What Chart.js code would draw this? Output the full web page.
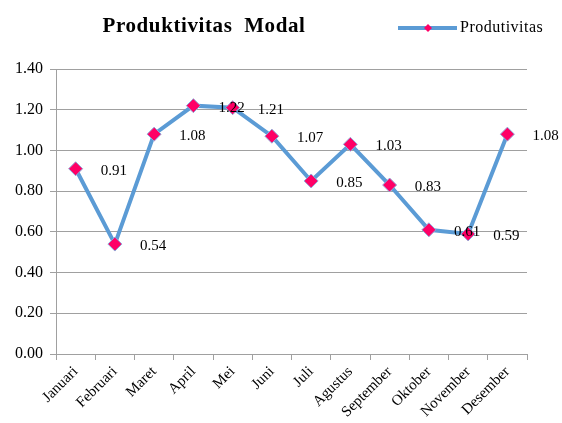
<!DOCTYPE html>
<html>
<head>
<meta charset="utf-8">
<script src="https://cdn.jsdelivr.net/npm/chart.js@4"></script>
<style>
    body { margin: 0; background: #ffffff; }
    #wrap { width: 562px; height: 423px; }
</style>
</head>
<body>
<div id="wrap"><canvas id="grafica1" width="562" height="423"></canvas></div>
<script>
const bulan = ['Januari', 'Februari', 'Maret', 'April', 'Mei', 'Juni', 'Juli', 'Agustus', 'September', 'Oktober', 'November', 'Desember'];
const produktivitas = [0.91, 0.54, 1.08, 1.22, 1.21, 1.07, 0.85, 1.03, 0.83, 0.61, 0.59, 1.08];
const judul = 'Produktivitas  Modal';
const namaSeri = 'Produtivitas';

const warnaGaris = '#5B9BD5';
const warnaTitik = '#FF0066';
const warnaGrid = '#A0A0A0';
const hurufSerif = '"Liberation Serif", "Times New Roman", serif';

// etiqueta de valores a la derecha de cada punto
const labelPlugin = {
    id: 'labelNilai',
    afterDatasetsDraw(chart) {
        const ctx = chart.ctx;
        const meta = chart.getDatasetMeta(0);
        ctx.save();
        ctx.font = '15px ' + hurufSerif;
        ctx.fillStyle = '#000000';
        ctx.textAlign = 'left';
        ctx.textBaseline = 'middle';
        meta.data.forEach((pt, i) => {
            ctx.fillText(produktivitas[i].toFixed(2), pt.x + 25, pt.y + 2);
        });
        ctx.restore();
    }
};

// judul + legenda dibuat manual (posisi seperti Excel)
const headerPlugin = {
    id: 'header',
    afterDraw(chart) {
        const ctx = chart.ctx;
        ctx.save();
        ctx.font = 'bold 21px ' + hurufSerif;
        ctx.letterSpacing = '0.6px';
        ctx.fillStyle = '#000000';
        ctx.textAlign = 'center';
        ctx.textBaseline = 'middle';
        ctx.fillText(judul, 204, 27);

        ctx.strokeStyle = warnaGaris;
        ctx.lineWidth = 4;
        ctx.beginPath();
        ctx.moveTo(398, 28);
        ctx.lineTo(457, 28);
        ctx.stroke();
        ctx.fillStyle = warnaTitik;
        ctx.beginPath();
        ctx.moveTo(428 - 4, 28);
        ctx.lineTo(428, 24);
        ctx.lineTo(428 + 4, 28);
        ctx.lineTo(428, 32);
        ctx.closePath();
        ctx.fill();

        ctx.font = '16px ' + hurufSerif;
        ctx.letterSpacing = '0.5px';
        ctx.fillStyle = '#000000';
        ctx.textAlign = 'left';
        ctx.fillText(namaSeri, 460, 28);
        ctx.restore();
    }
};

function main() {
    const ctx1 = document.getElementById('grafica1').getContext('2d');

    const config = {
        type: 'line',
        data: {
            labels: bulan,
            datasets: [{
                label: namaSeri,
                data: produktivitas,
                borderColor: warnaGaris,
                borderWidth: 4,
                backgroundColor: warnaTitik,
                pointStyle: 'rectRot',
                pointRadius: 7,
                pointHoverRadius: 7,
                pointBackgroundColor: warnaTitik,
                pointBorderColor: '#8FA8D8',
                pointBorderWidth: 1,
                tension: 0,
                fill: false
            }]
        },
        options: {
            responsive: false,
            animation: { duration: 0 },
            layout: { padding: { top: 69, right: 35, left: 0, bottom: 0 } },
            plugins: {
                legend: { display: false },
                title: { display: false },
                tooltip: { enabled: false }
            },
            scales: {
                x: {
                    offset: true,
                    grid: {
                        offset: true,
                        drawOnChartArea: false,
                        drawTicks: true,
                        tickLength: 6,
                        color: warnaGrid
                    },
                    border: { color: warnaGrid, width: 1 },
                    ticks: {
                        minRotation: 45,
                        maxRotation: 45,
                        autoSkip: false,
                        padding: 3,
                        color: '#000000',
                        font: { family: hurufSerif, size: 15 }
                    },
                    afterFit(scale) { scale.height = 69; }
                },
                y: {
                    min: 0,
                    max: 1.4,
                    grid: {
                        color: warnaGrid,
                        tickLength: 6
                    },
                    border: { color: warnaGrid, width: 1 },
                    ticks: {
                        stepSize: 0.2,
                        padding: 7,
                        color: '#000000',
                        font: { family: hurufSerif, size: 16 },
                        callback: v => v.toFixed(2)
                    },
                    afterFit(scale) { scale.width = 56; }
                }
            }
        },
        plugins: [labelPlugin, headerPlugin]
    };

    new Chart(ctx1, config);
}

document.addEventListener('DOMContentLoaded', function() {
    main();
});
</script>
</body>
</html>
